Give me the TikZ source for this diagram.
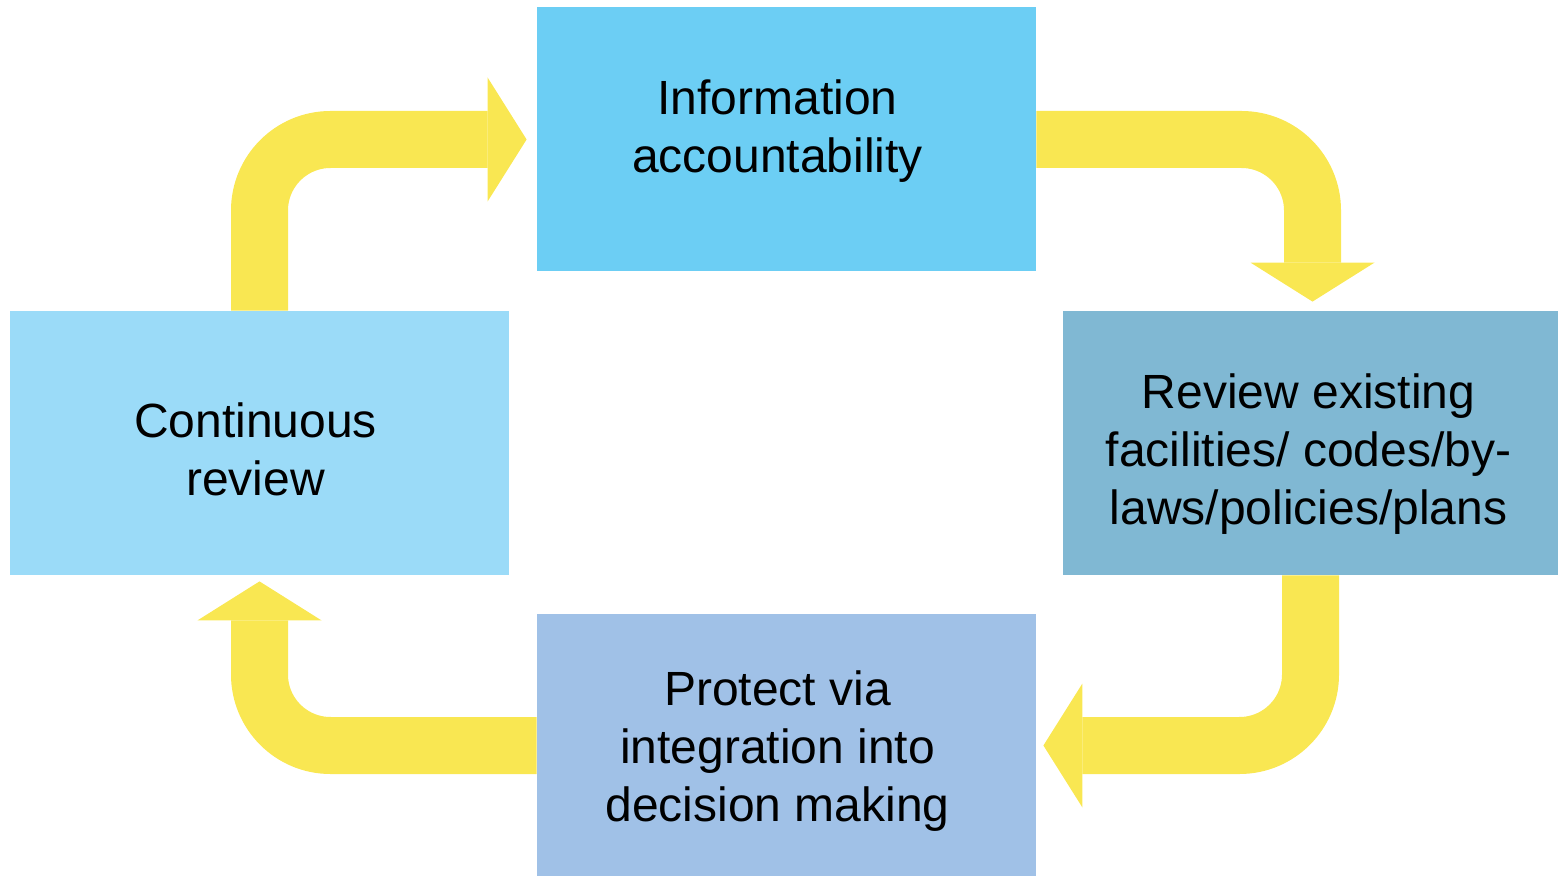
\documentclass[tikz,border=0pt]{standalone}
\usepackage{fontspec}
\setmainfont{Liberation Sans}
\usetikzlibrary{arrows.meta}
\definecolor{bandyellow}{RGB}{249,231,82}
\definecolor{infoblue}{RGB}{108,206,244}
\definecolor{reviewblue}{RGB}{128,184,211}
\definecolor{protectblue}{RGB}{160,193,231}
\definecolor{contblue}{RGB}{155,219,248}
\tikzset{
  stage/.style={minimum width=249.5pt, minimum height=132pt, inner sep=0pt},
  stagetext/.style={inner sep=0pt, align=center, font=\fontsize{24}{29}\selectfont},
  band/.style={draw=bandyellow, line width=28.5pt, rounded corners=35.5pt,
    -{Triangle[length=19.5pt,width=62pt,line width=0pt]}}
}

\begin{document}
\begin{tikzpicture}[x=0.5pt,y=-0.5pt]
\useasboundingbox (0,0) rectangle (1558,876);
% the four stages
\node[stage, fill=infoblue] (info) at (786.5,139.5) {};
\node[stage, fill=reviewblue, minimum width=247.5pt] (review) at (1310.5,443) {};
\node[stage, fill=protectblue, minimum height=131pt] (protect) at (786.5,745.5) {};
\node[stage, fill=contblue] (cont) at (259.5,443) {};
% their texts
\node[stagetext] (infotext) at ([xshift=-4.5pt,yshift=4pt]info.center) {Information\\accountability};
\node[stagetext] (reviewtext) at ([xshift=-1pt,yshift=-5.5pt]review.center) {Review existing\\facilities/ codes/by-\\laws/policies/plans};
\node[stagetext] (protecttext) at ([xshift=-4.5pt,yshift=-3pt]protect.center) {Protect via\\integration into\\decision making};
\node[stagetext] (conttext) at ([xshift=-2pt,yshift=-3pt]cont.center) {Continuous\\review};
% the cycle
\draw[band] (cont.north) |- ([xshift=-5pt]info.west);
\draw[band] (info.east) -| ([xshift=1pt,yshift=4.5pt]review.north);
\draw[band] (review.south) |- ([xshift=3.5pt]protect.east);
\draw[band] (protect.west) -| ([yshift=-3pt]cont.south);
\end{tikzpicture}
\end{document}
